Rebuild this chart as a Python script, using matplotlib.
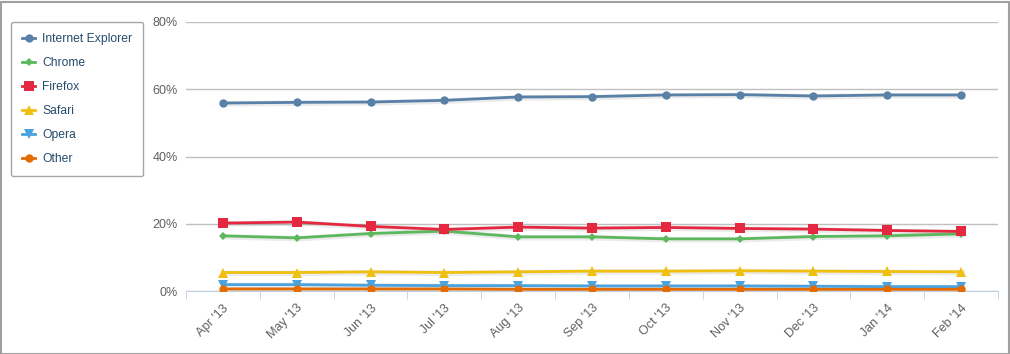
import numpy as np
import matplotlib
matplotlib.use('Agg')
import matplotlib.pyplot as plt
from matplotlib.patches import Rectangle

plt.rcParams['font.family'] = ['Liberation Sans', 'DejaVu Sans']

months = ["Apr '13", "May '13", "Jun '13", "Jul '13", "Aug '13", "Sep '13",
          "Oct '13", "Nov '13", "Dec '13", "Jan '14", "Feb '14"]

ie = [55.9, 56.1, 56.2, 56.7, 57.7, 57.8, 58.3, 58.4, 58.0, 58.3, 58.3]
chrome = [16.4, 15.8, 17.1, 17.8, 16.1, 16.1, 15.5, 15.5, 16.2, 16.4, 17.0]
firefox = [20.2, 20.5, 19.2, 18.3, 19.0, 18.7, 18.9, 18.6, 18.4, 18.0, 17.7]
safari = [5.5, 5.5, 5.7, 5.5, 5.7, 5.9, 5.9, 6.0, 5.9, 5.8, 5.7]
opera = [1.9, 1.9, 1.7, 1.6, 1.6, 1.5, 1.5, 1.5, 1.4, 1.3, 1.3]
other = [0.6, 0.6, 0.6, 0.6, 0.5, 0.5, 0.5, 0.5, 0.5, 0.5, 0.5]

series = [
    ("Internet Explorer", ie, '#5980a6', 'o', 6),
    ("Chrome", chrome, '#5cb85c', 'D', 4),
    ("Firefox", firefox, '#e3283f', 's', 6.5),
    ("Safari", safari, '#f0c010', '^', 6.5),
    ("Opera", opera, '#4aa3df', 'v', 6.5),
    ("Other", other, '#e46b00', 'o', 6),
]

W, H = 1010, 354
fig = plt.figure(figsize=(W / 100, H / 100), dpi=100)
fig.patches.append(Rectangle((0.5 / W, 0.5 / H), 1 - 2 / W, 1 - 2 / H,
                             transform=fig.transFigure, fill=False,
                             edgecolor='#a0a0a0', linewidth=1.5))

ax = fig.add_axes([186 / W, (H - 291) / H, (998 - 186) / W, (291 - 22) / H])
x = np.arange(len(months))

for name, vals, col, mk, ms in series:
    # faint shadow like the original
    ax.plot(x + 0.02, np.array(vals) - 0.25, color='black', alpha=0.08,
            linewidth=4, zorder=2)
    ax.plot(x, vals, color=col, linewidth=2, marker=mk, markersize=ms,
            markeredgewidth=0, label=name, zorder=3)

ax.set_xlim(-0.5, len(months) - 0.5)
ax.set_ylim(0, 80)
ax.set_yticks([0, 20, 40, 60, 80])
ax.set_yticklabels(['0%', '20%', '40%', '60%', '80%'])
ax.yaxis.grid(True, color='#c0c0c0', linewidth=1)
ax.set_axisbelow(True)
ax.tick_params(axis='y', length=0, pad=6, labelsize=9, labelcolor='#606060')

ax.set_xticks(x)
ax.set_xticklabels(months, rotation=45, ha='right', rotation_mode='anchor',
                   fontsize=9, color='#606060')
ax.set_xticks(np.arange(len(months) + 1) - 0.5, minor=True)
ax.tick_params(axis='x', which='major', length=0, pad=8)
ax.tick_params(axis='x', which='minor', length=6, color='#c0d0e0')

for s in ['top', 'right', 'left']:
    ax.spines[s].set_visible(False)
ax.spines['bottom'].set_color('#c0d0e0')

leg = fig.legend(loc='upper left', bbox_to_anchor=(11 / W, 1 - 22 / H),
                 frameon=True, fancybox=True, fontsize=8.7, labelspacing=1.0,
                 handlelength=1.1, handletextpad=0.6, borderpad=0.9,
                 borderaxespad=0, edgecolor='#909090')
leg.get_frame().set_linewidth(1)
for t in leg.get_texts():
    t.set_color('#274b6d')

fig.savefig('out.png', dpi=100)
